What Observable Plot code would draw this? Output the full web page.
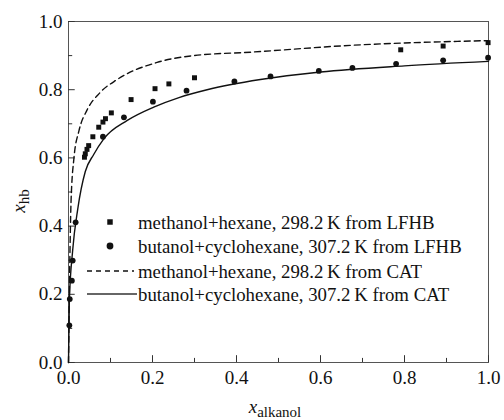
<!DOCTYPE html>
<html>
<head>
<meta charset="utf-8">
<script src="https://cdn.jsdelivr.net/npm/d3@7"></script>
<script src="https://cdn.jsdelivr.net/npm/@observablehq/plot@0.6"></script>
<style>
  html, body { margin: 0; padding: 0; background: #fff; }
  svg { display: block; }
</style>
</head>
<body>
<div id="chart"></div>
<script>
// ---- data ----
const majorTicks = [0, 0.2, 0.4, 0.6, 0.8, 1.0];
const minorTicks = [0.1, 0.3, 0.5, 0.7, 0.9];

// methanol+hexane, 298.2 K from LFHB (squares)
const sqX = [0.038, 0.040, 0.044, 0.048, 0.058, 0.072, 0.082, 0.088, 0.102, 0.149, 0.206, 0.239, 0.300, 0.791, 0.892, 0.999];
const sqY = [0.602, 0.612, 0.625, 0.636, 0.662, 0.690, 0.705, 0.715, 0.732, 0.771, 0.803, 0.817, 0.835, 0.917, 0.928, 0.938];

// butanol+cyclohexane, 307.2 K from LFHB (circles)
const ciX = [0.002, 0.003, 0.008, 0.010, 0.017, 0.082, 0.132, 0.201, 0.281, 0.395, 0.481, 0.596, 0.676, 0.780, 0.892, 0.999];
const ciY = [0.109, 0.186, 0.240, 0.299, 0.411, 0.662, 0.719, 0.765, 0.797, 0.824, 0.839, 0.855, 0.864, 0.876, 0.886, 0.894];

// methanol+hexane, 298.2 K from CAT (dashed)
const daX = [0, 0.002, 0.004, 0.006, 0.013, 0.025, 0.044, 0.074, 0.116, 0.211, 0.298, 0.433, 0.671, 1.0];
const daY = [0, 0.20, 0.36, 0.47, 0.60, 0.68, 0.74, 0.79, 0.83, 0.88, 0.90, 0.910, 0.930, 0.944];

// butanol+cyclohexane, 307.2 K from CAT (solid)
const soX = [0, 0.002, 0.010, 0.022, 0.040, 0.060, 0.084, 0.140, 0.203, 0.263, 0.330, 0.457, 0.600, 0.800, 1.0];
const soY = [0, 0.18, 0.33, 0.45, 0.56, 0.61, 0.656, 0.71, 0.749, 0.777, 0.80, 0.83, 0.852, 0.870, 0.883];

const legendLabels = [
  "methanol+hexane, 298.2\u2009K from LFHB",
  "butanol+cyclohexane, 307.2\u2009K from LFHB",
  "methanol+hexane, 298.2\u2009K from CAT",
  "butanol+cyclohexane, 307.2\u2009K from CAT"
];

const squares = sqX.map((x, i) => ({x, y: sqY[i]}));
const circles = ciX.map((x, i) => ({x, y: ciY[i]}));
const dashed = daX.map((x, i) => ({x, y: daY[i]}));
const solid = soX.map((x, i) => ({x, y: soY[i]}));

const FONT = "'Liberation Serif', 'DejaVu Serif', serif";

const plot = Plot.plot({
  width: 504,
  height: 420,
  marginLeft: 68,
  marginRight: 16,
  marginTop: 21,
  marginBottom: 58,
  style: {fontFamily: FONT, fontSize: "19px", color: "#111", background: "#fff"},
  x: {domain: [0, 1]},
  y: {domain: [0, 1]},
  marks: [
    Plot.frame({stroke: "#555", strokeWidth: 1}),
    // inward ticks
    Plot.ruleX(majorTicks, {x: d => d, y1: 0, y2: 0.02, stroke: "#333"}),
    Plot.ruleX(minorTicks, {x: d => d, y1: 0, y2: 0.012, stroke: "#333"}),
    Plot.ruleY(majorTicks, {y: d => d, x1: 0, x2: 0.016, stroke: "#333"}),
    Plot.ruleY(minorTicks, {y: d => d, x1: 0, x2: 0.01, stroke: "#333"}),
    Plot.axisX({ticks: majorTicks, tickSize: 0, tickPadding: 8, tickFormat: d3.format(".1f"), label: null}),
    Plot.axisY({ticks: majorTicks, tickSize: 0, tickPadding: 6, tickFormat: d3.format(".1f"), label: null}),
    Plot.line(dashed, {x: "x", y: "y", curve: "monotone-x", stroke: "#111", strokeWidth: 1.4, strokeDasharray: "6,4"}),
    Plot.line(solid, {x: "x", y: "y", curve: "monotone-x", stroke: "#111", strokeWidth: 1.4}),
    Plot.dot(squares, {x: "x", y: "y", symbol: "square", r: 2.8, fill: "#111", stroke: "none"}),
    Plot.dot(circles, {x: "x", y: "y", symbol: "circle", r: 2.9, fill: "#111", stroke: "none"})
  ]
});

document.getElementById("chart").appendChild(plot);

// ---- axis titles and legend (SVG text) ----
const svg = d3.select(plot);
const g = svg.append("g").attr("font-family", FONT).attr("fill", "#111");

const xl = g.append("text").attr("x", 275).attr("y", 413).attr("text-anchor", "middle").attr("font-size", 19);
xl.append("tspan").attr("font-style", "italic").text("x");
xl.append("tspan").attr("font-size", 15).attr("dy", 4).text("alkanol");

const yl = g.append("text").attr("transform", "translate(25,201) rotate(-90)").attr("text-anchor", "middle").attr("font-size", 19);
yl.append("tspan").attr("font-style", "italic").text("x");
yl.append("tspan").attr("font-size", 15).attr("dy", 4).text("hb");

const rows = [222, 246, 271, 294];
// legend symbols
g.append("path").attr("d", d3.symbol(d3.symbolSquare, 30)()).attr("transform", `translate(110,${rows[0]})`);
g.append("circle").attr("cx", 110).attr("cy", rows[1]).attr("r", 3.4);
g.append("line").attr("x1", 87).attr("x2", 134).attr("y1", rows[2]).attr("y2", rows[2]).attr("stroke", "#111").attr("stroke-width", 1.4).attr("stroke-dasharray", "5,4");
g.append("line").attr("x1", 87).attr("x2", 137).attr("y1", rows[3]).attr("y2", rows[3]).attr("stroke", "#333").attr("stroke-width", 1.4);
legendLabels.forEach((t, i) => {
  g.append("text").attr("x", 138).attr("y", rows[i]).attr("dy", "0.35em").attr("text-anchor", "start").attr("font-size", 18.8).text(t);
});
</script>
</body>
</html>
